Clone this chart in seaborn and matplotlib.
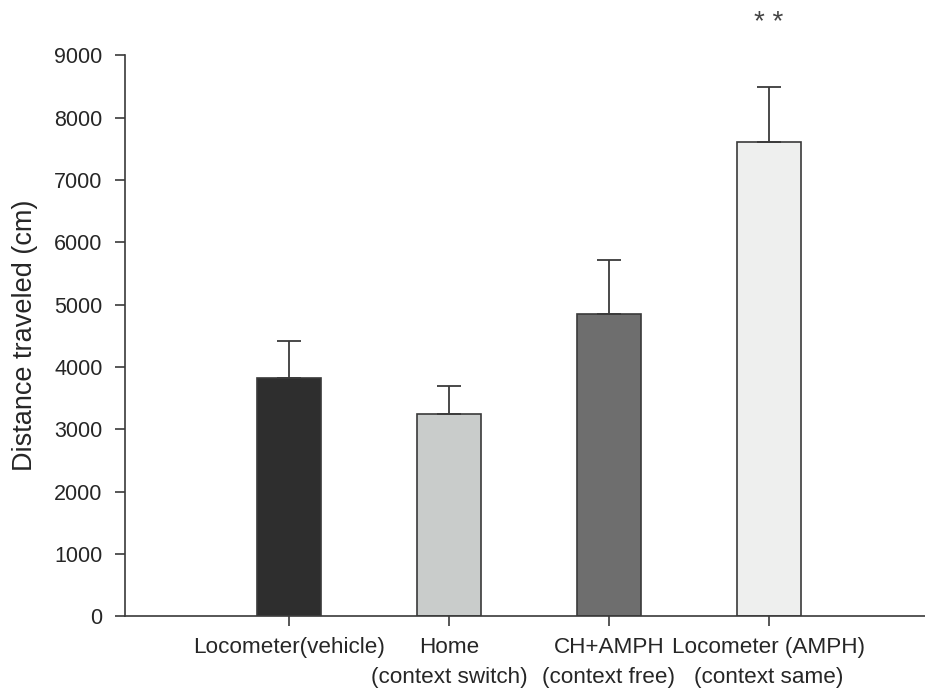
import numpy as np
import pandas as pd
import matplotlib
matplotlib.use('Agg')
import matplotlib.pyplot as plt
import seaborn as sns

# values
groups = ['Locometer(vehicle)', 'Home\n(context switch)',
          'CH+AMPH\n(context free)', 'Locometer (AMPH)\n(context same)']
means = [3820, 3250, 4850, 7610]
errs = [590, 450, 870, 880]
bar_colors = ['#2e2e2e', '#c9cccb', '#6e6e6e', '#eeefee']

df = pd.DataFrame({'group': groups, 'distance': means})

sns.set_style('white')
plt.rcParams['font.family'] = ['Liberation Sans', 'DejaVu Sans']

fig = plt.figure(figsize=(9.25, 6.9), dpi=100)
ax = fig.add_axes([0.135, 0.107, 0.865, 0.813])

sns.barplot(data=df, x='group', y='distance', hue='group', palette=bar_colors,
            legend=False, width=0.4, edgecolor='#3a3a3a', linewidth=1.2,
            saturation=1, ax=ax)

# upper error bars only
ax.errorbar(np.arange(len(groups)), means, yerr=[np.zeros(len(errs)), errs],
            fmt='none', ecolor='#3a3a3a', elinewidth=1.3, capsize=8.5,
            capthick=1.3, zorder=3)

ax.set_xlim(-1.025, 3.975)
ax.set_ylim(0, 9000)
ax.set_yticks(range(0, 9001, 1000))
ax.set_xlabel('')
ax.set_ylabel('Distance traveled (cm)', fontsize=19.5, color='#262626', labelpad=12)

for side in ['top', 'right']:
    ax.spines[side].set_visible(False)
for side in ['left', 'bottom']:
    ax.spines[side].set_color('#3a3a3a')
    ax.spines[side].set_linewidth(1.2)

ax.tick_params(axis='both', direction='out', length=7, width=1.2, color='#3a3a3a',
               labelcolor='#262626', bottom=True, left=True)
ax.tick_params(axis='y', pad=9, labelsize=15.5)
ax.tick_params(axis='x', pad=8, labelsize=16.2)
for lbl in ax.get_xticklabels():
    lbl.set_linespacing(1.55)

# significance marker
ax.text(3, 9510, '* *', ha='center', va='center', fontsize=20, color='#444444',
        clip_on=False)

fig.savefig('out.png', dpi=100, facecolor='white')
